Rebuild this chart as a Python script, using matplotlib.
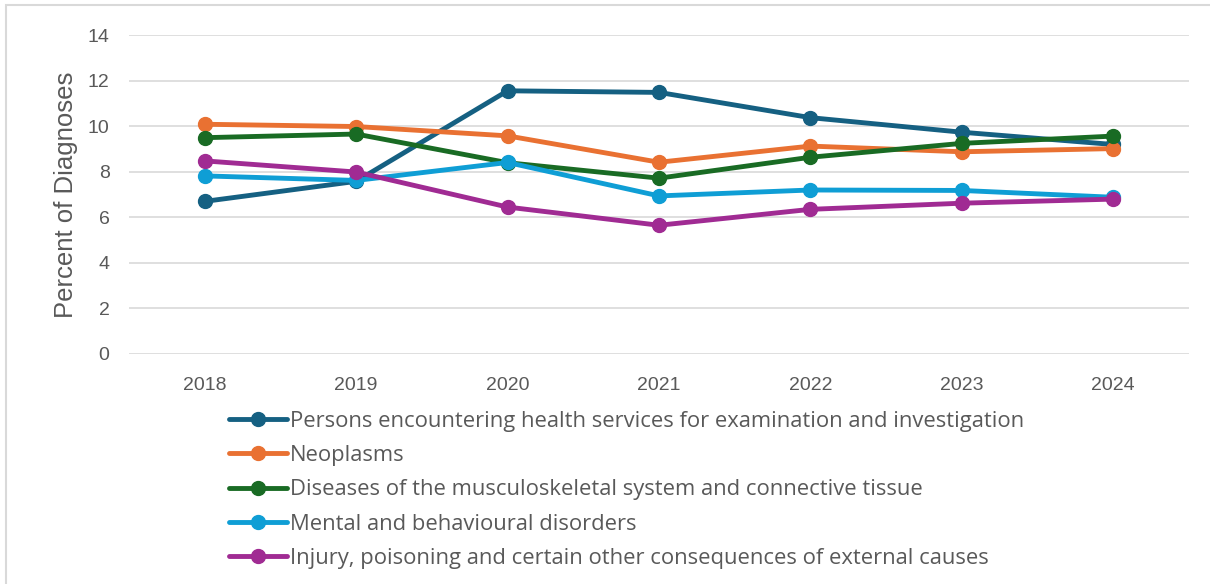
import matplotlib.pyplot as plt
from matplotlib.patches import Rectangle

years = ["2018", "2019", "2020", "2021", "2022", "2023", "2024"]

persons = [6.70, 7.58, 11.56, 11.49, 10.38, 9.74, 9.20]
neoplasms = [10.09, 9.99, 9.58, 8.42, 9.13, 8.88, 9.02]
musculo = [9.50, 9.66, 8.40, 7.72, 8.64, 9.25, 9.57]
mental = [7.82, 7.62, 8.41, 6.94, 7.20, 7.18, 6.88]
injury = [8.48, 7.99, 6.45, 5.65, 6.35, 6.62, 6.80]

labels = [
    "Persons encountering health services for examination and investigation",
    "Neoplasms",
    "Diseases of the musculoskeletal system and connective tissue",
    "Mental and behavioural disorders",
    "Injury, poisoning and certain other consequences of external causes",
]
colors = ["#156082", "#E97132", "#196B24", "#0F9ED5", "#A02B93"]
series = [persons, neoplasms, musculo, mental, injury]

txt = "#595959"
plt.rcParams['font.family'] = ['Liberation Sans', 'DejaVu Sans']

fig = plt.figure(figsize=(12.1, 5.84), dpi=100)
ax = fig.add_axes([129/1210, 1 - 353.8/584, (1189-129)/1210, (353.8-35.3)/584])

x = range(len(years))
for vals, lab, c in zip(series, labels, colors):
    ax.plot(x, vals, '-o', color=c, lw=3.5, ms=10, label=lab,
            solid_capstyle='round')

ax.set_xlim(-0.5, len(years) - 0.5)
ax.set_ylim(0, 14)
ax.set_yticks(range(0, 15, 2))
ax.set_xticks(list(x))
ax.set_xticklabels(years)
ax.tick_params(axis='both', length=0, labelsize=14, colors=txt)
ax.tick_params(axis='y', pad=14)
ax.tick_params(axis='x', pad=17)
ax.grid(axis='y', color='#D9D9D9', lw=1.2)
ax.set_axisbelow(True)
for s in ax.spines.values():
    s.set_visible(False)
ax.set_ylabel("Percent of Diagnoses", fontsize=18.5, color=txt, labelpad=7)

leg = ax.legend(loc='upper left', bbox_to_anchor=(229/1210, 1 - 411/584),
                bbox_transform=fig.transFigure, frameon=False,
                prop={'family': 'Open Sans', 'size': 15.8},
                handlelength=2.65, handletextpad=0.12, labelspacing=0.6,
                borderaxespad=0, borderpad=0)
for t in leg.get_texts():
    t.set_color(txt)

# outer chart border
fig.patches.append(Rectangle((6/1210, -0.1), 1.2, 1.1 - 5/584, transform=fig.transFigure,
                             fill=False, ec='#D9D9D9', lw=1.5))

fig.savefig("out.png", dpi=100)
